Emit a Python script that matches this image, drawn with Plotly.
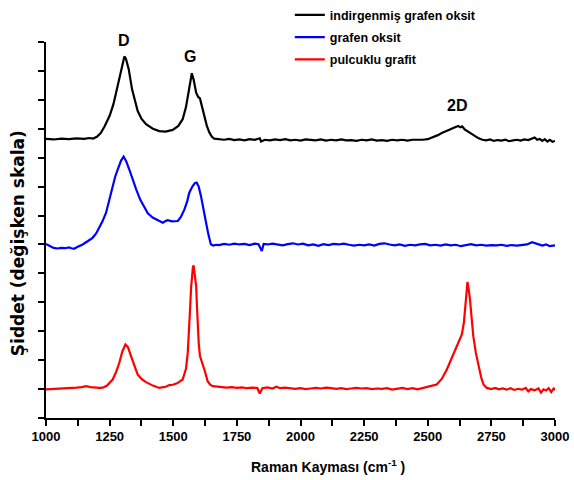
import plotly.graph_objects as go

# ---- data (wavenumber, offset intensity) ----
series_names = ["indirgenmiş grafen oksit", "grafen oksit", "pulcuklu grafit"]
series_colors = ["#000000", "#0000FF", "#FF0000"]

black_points = [
    (1000, 9.65), (1030, 9.63), (1060, 9.66), (1090, 9.64), (1120, 9.67), (1150, 9.65),
    (1170, 9.68), (1185, 9.66), (1200, 9.72), (1215, 9.85), (1230, 10.08), (1250, 10.45),
    (1265, 10.85), (1280, 11.45), (1295, 12.06), (1303, 12.38), (1308, 12.5), (1314, 12.42),
    (1325, 12.06), (1338, 11.37), (1350, 10.9), (1360, 10.62), (1375, 10.35), (1393, 10.16),
    (1420, 10.0), (1445, 9.92), (1470, 9.9), (1498, 9.96), (1520, 10.1), (1537, 10.33),
    (1550, 10.75), (1557, 11.13), (1565, 11.6), (1573, 11.92), (1580, 11.7), (1590, 11.25),
    (1598, 11.1), (1605, 11.05), (1612, 10.8), (1622, 10.44), (1632, 10.1), (1642, 9.87),
    (1652, 9.72), (1661, 9.66), (1680, 9.64), (1700, 9.62), (1720, 9.65), (1740, 9.61),
    (1760, 9.63), (1780, 9.60), (1800, 9.64), (1820, 9.62), (1840, 9.67), (1845, 9.56),
    (1860, 9.62), (1880, 9.60), (1900, 9.63), (1920, 9.61), (1940, 9.64), (1960, 9.60),
    (1980, 9.62), (2000, 9.59), (2020, 9.63), (2040, 9.61), (2060, 9.60), (2080, 9.63),
    (2100, 9.59), (2120, 9.62), (2140, 9.60), (2160, 9.63), (2180, 9.60), (2200, 9.61),
    (2220, 9.58), (2240, 9.62), (2260, 9.60), (2280, 9.63), (2300, 9.59), (2320, 9.61),
    (2340, 9.58), (2360, 9.62), (2380, 9.60), (2400, 9.62), (2420, 9.59), (2440, 9.62),
    (2460, 9.61), (2480, 9.62), (2500, 9.64), (2520, 9.70), (2540, 9.78), (2555, 9.85),
    (2570, 9.90), (2585, 9.97), (2600, 10.03), (2610, 10.08), (2620, 10.10), (2628, 10.05),
    (2635, 10.08), (2645, 9.98), (2655, 9.92), (2670, 9.84), (2685, 9.75), (2700, 9.67),
    (2715, 9.62), (2730, 9.60), (2745, 9.63), (2760, 9.58), (2775, 9.61), (2790, 9.59),
    (2805, 9.62), (2820, 9.57), (2835, 9.60), (2850, 9.62), (2865, 9.59), (2880, 9.63),
    (2895, 9.61), (2910, 9.66), (2920, 9.70), (2930, 9.62), (2940, 9.65), (2950, 9.58),
    (2960, 9.64), (2970, 9.56), (2980, 9.62), (2990, 9.55), (3000, 9.58),
]

blue_points = [
    (1000, 6.02), (1015, 5.95), (1030, 5.88), (1045, 5.86), (1060, 5.88), (1075, 5.87),
    (1090, 5.90), (1100, 5.87), (1110, 5.85), (1125, 5.92), (1144, 6.00), (1165, 6.12),
    (1183, 6.23), (1197, 6.38), (1210, 6.58), (1222, 6.80), (1236, 7.10), (1250, 7.60),
    (1262, 8.02), (1272, 8.35), (1282, 8.60), (1295, 8.90), (1305, 9.04), (1315, 8.88),
    (1327, 8.60), (1340, 8.25), (1354, 7.91), (1370, 7.55), (1386, 7.27), (1400, 7.08),
    (1419, 6.93), (1440, 6.83), (1459, 6.75), (1468, 6.80), (1478, 6.84), (1495, 6.80),
    (1510, 6.82), (1518, 6.81), (1530, 6.95), (1544, 7.21), (1555, 7.50), (1563, 7.79),
    (1575, 8.00), (1585, 8.12), (1592, 8.14), (1600, 8.00), (1609, 7.67), (1618, 7.20),
    (1629, 6.75), (1638, 6.35), (1648, 6.00), (1658, 5.96), (1668, 5.99), (1680, 5.98),
    (1700, 6.02), (1720, 5.99), (1740, 6.03), (1760, 6.00), (1780, 6.02), (1800, 5.98),
    (1820, 6.03), (1835, 6.01), (1848, 5.77), (1855, 6.02), (1870, 6.00), (1890, 6.03),
    (1910, 6.00), (1930, 5.97), (1950, 6.01), (1970, 6.04), (1990, 6.00), (2010, 6.03),
    (2030, 5.97), (2050, 6.00), (2070, 5.95), (2090, 6.01), (2110, 5.98), (2130, 6.02),
    (2150, 6.00), (2170, 6.03), (2190, 5.99), (2210, 5.96), (2230, 5.99), (2250, 5.97),
    (2270, 6.00), (2290, 5.96), (2310, 6.02), (2330, 6.04), (2350, 6.00), (2370, 5.97),
    (2390, 6.00), (2410, 5.95), (2430, 5.99), (2450, 5.97), (2470, 6.00), (2490, 6.02),
    (2510, 5.97), (2530, 5.99), (2550, 5.96), (2570, 6.00), (2590, 5.97), (2610, 5.99),
    (2630, 5.94), (2650, 5.98), (2670, 6.01), (2690, 5.97), (2710, 5.99), (2730, 5.96),
    (2750, 5.98), (2770, 5.97), (2790, 5.99), (2810, 5.95), (2830, 5.98), (2850, 5.96),
    (2870, 5.99), (2890, 6.00), (2910, 6.08), (2920, 6.05), (2935, 6.02), (2950, 5.96),
    (2965, 6.00), (2980, 5.94), (3000, 5.97),
]

red_points = [
    (1000, 0.99), (1020, 1.00), (1040, 0.99), (1060, 1.01), (1080, 1.02), (1100, 1.03),
    (1120, 1.05), (1140, 1.07), (1157, 1.10), (1175, 1.07), (1195, 1.05), (1210, 1.04),
    (1223, 1.05), (1240, 1.12), (1262, 1.33), (1275, 1.58), (1288, 1.91), (1300, 2.30),
    (1312, 2.54), (1322, 2.45), (1334, 2.14), (1347, 1.80), (1360, 1.51), (1375, 1.35),
    (1393, 1.24), (1420, 1.12), (1445, 1.04), (1470, 1.08), (1485, 1.14), (1498, 1.15),
    (1515, 1.20), (1537, 1.33), (1550, 1.70), (1557, 2.26), (1562, 2.90), (1566, 3.75),
    (1570, 4.50), (1573, 4.91), (1577, 5.20), (1580, 5.28), (1584, 5.00), (1587, 4.80),
    (1590, 4.56), (1593, 3.90), (1596, 3.18), (1600, 2.60), (1605, 2.14), (1610, 2.00),
    (1616, 1.91), (1625, 1.60), (1635, 1.27), (1645, 1.15), (1655, 1.10), (1675, 1.08),
    (1694, 1.08), (1710, 1.05), (1730, 1.07), (1750, 1.04), (1770, 1.06), (1790, 1.03),
    (1810, 1.05), (1830, 1.04), (1840, 0.85), (1850, 1.03), (1870, 1.06), (1890, 1.02),
    (1905, 1.08), (1920, 1.03), (1940, 1.05), (1960, 1.02), (1980, 1.01), (2000, 1.03),
    (2020, 1.00), (2040, 1.02), (2060, 1.04), (2080, 1.02), (2100, 1.05), (2120, 1.03),
    (2140, 1.01), (2160, 1.03), (2180, 1.00), (2200, 1.02), (2220, 1.04), (2240, 1.02),
    (2260, 1.03), (2280, 1.00), (2300, 1.02), (2320, 1.01), (2340, 1.03), (2360, 0.98),
    (2380, 1.02), (2400, 1.04), (2420, 1.00), (2440, 1.03), (2460, 0.99), (2475, 1.03),
    (2490, 1.06), (2510, 1.10), (2535, 1.16), (2555, 1.35), (2575, 1.68), (2590, 2.00),
    (2607, 2.37), (2622, 2.65), (2634, 2.89), (2642, 3.30), (2647, 3.75), (2652, 4.30),
    (2656, 4.70), (2660, 4.50), (2666, 4.10), (2672, 3.50), (2679, 2.83), (2689, 2.25),
    (2699, 1.79), (2710, 1.40), (2719, 1.16), (2732, 1.04), (2750, 1.00), (2765, 1.04),
    (2780, 0.99), (2795, 1.02), (2810, 0.98), (2825, 1.03), (2840, 0.97), (2855, 1.01),
    (2870, 0.98), (2885, 1.04), (2895, 0.92), (2905, 1.00), (2920, 0.96), (2935, 1.02),
    (2945, 0.88), (2955, 0.99), (2965, 0.95), (2975, 1.03), (2985, 0.90), (2995, 1.02),
    (3000, 0.97),
]

peak_labels = ["D", "G", "2D"]
peak_x = [1306, 1565, 2615]
peak_y = [13.05, 12.5, 10.8]

x_tick_vals = [1000, 1250, 1500, 1750, 2000, 2250, 2500, 2750, 3000]
x_title = "Raman Kayması (cm<sup>-1</sup> )"
y_title = "Şiddet (değişken skala)"

FONT = "Arial, Liberation Sans, sans-serif"
Y_RANGE = [0, 13]

fig = go.Figure()
for i, (name, color, pts) in enumerate(zip(series_names, series_colors,
                                          [black_points, blue_points, red_points])):
    xs = [p[0] for p in pts]
    ys = [p[1] for p in pts]
    fig.add_trace(go.Scatter(x=xs, y=ys, mode="lines", name=name,
                             legendgroup=f"g{i}",
                             line=dict(color=color, width=2.2)))

# peak labels: x in data units, y converted to paper fraction so labels above range still show
for lab, xx, yy in zip(peak_labels, peak_x, peak_y):
    fig.add_annotation(x=xx, xref="x", y=yy / Y_RANGE[1], yref="paper",
                       text=lab, showarrow=False, yanchor="middle",
                       font=dict(family=FONT, size=16, color="black", weight="bold"))

# axis titles as annotations
fig.add_annotation(x=0.554, y=-0.128, xref="paper", yref="paper", text=x_title,
                   showarrow=False, xanchor="center", yanchor="middle",
                   font=dict(family=FONT, size=14, color="black", weight="bold"))
fig.add_annotation(x=-0.055, y=0.465, xref="paper", yref="paper", text=y_title,
                   showarrow=False, textangle=-90, xanchor="center", yanchor="middle",
                   font=dict(family="DejaVu Sans, sans-serif", size=17,
                             color="black", weight="bold"))

fig.update_layout(
    width=574, height=480,
    margin=dict(l=46, r=19, t=42, b=62, autoexpand=False),
    paper_bgcolor="white", plot_bgcolor="white",
    font=dict(family=FONT, color="black"),
    showlegend=True,
    legend=dict(x=0.479, y=1.111, xanchor="left", yanchor="top",
                font=dict(family=FONT, size=12.5, color="black", weight="bold"),
                bgcolor="rgba(0,0,0,0)", tracegroupgap=3),
    xaxis=dict(range=[1000, 3000], tickvals=x_tick_vals,
               showline=True, linecolor="black", linewidth=1.5,
               ticks="outside", ticklen=6, tickwidth=1.5, tickcolor="black",
               minor=dict(dtick=125, tick0=1000, ticks="outside", ticklen=6,
                          tickwidth=1.5, tickcolor="black", showgrid=False),
               showgrid=False, zeroline=False,
               tickfont=dict(family=FONT, size=13, color="black", weight="bold")),
    yaxis=dict(range=Y_RANGE, dtick=1, tick0=0, showticklabels=False,
               showline=True, linecolor="black", linewidth=1.5,
               ticks="outside", ticklen=6, tickwidth=1.5, tickcolor="black",
               showgrid=False, zeroline=False),
)

fig.write_html("out.html")
